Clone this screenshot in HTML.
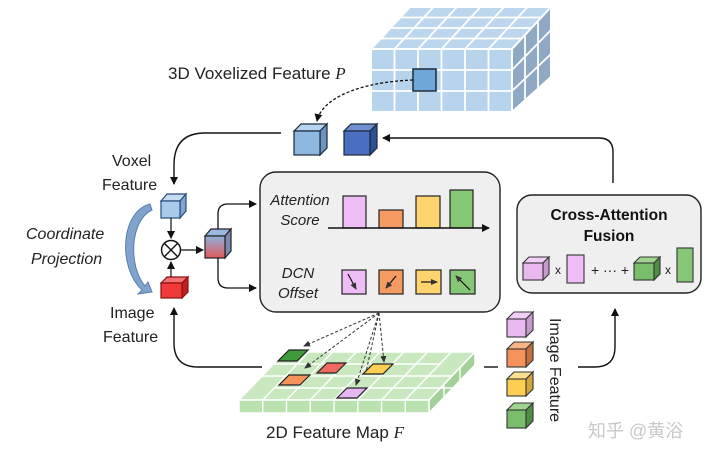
<!DOCTYPE html>
<html><head><meta charset="utf-8"><style>
html,body{margin:0;padding:0;background:#fff;}
svg{display:block;font-family:"Liberation Sans",sans-serif;}
</style></head><body>
<svg width="720" height="459" viewBox="0 0 720 459" xmlns="http://www.w3.org/2000/svg">
<defs>
<marker id="ah" markerWidth="8" markerHeight="8" refX="7" refY="4" orient="auto" markerUnits="userSpaceOnUse"><path d="M0,0 L8,4 L0,8 z" fill="#111"/></marker>
<marker id="ahs" markerWidth="7" markerHeight="6" refX="6" refY="3" orient="auto" markerUnits="userSpaceOnUse"><path d="M0,0 L7,3 L0,6 z" fill="#333"/></marker>
<linearGradient id="gr" x1="0" y1="0" x2="0" y2="1"><stop offset="0" stop-color="#8fb0dd"/><stop offset="1" stop-color="#e05a5a"/></linearGradient>
</defs>

<!-- 3D voxel block -->
<g stroke="#fff" stroke-width="2">
<polygon points="371,49 512,49 551,7 410,7" fill="#bcd6ee"/>
<polygon points="512,49 551,7 551,77 512,112" fill="#8fa9c4"/>
<rect x="371" y="49" width="141" height="63" fill="#b8d3ec"/>
</g>
<g stroke="#fff" stroke-width="1.8" fill="none">
<path d="M394.5,49V112M418,49V112M441.5,49V112M465,49V112M488.5,49V112M371,70H512M371,91H512"/>
<path d="M381,38.5H522M390.5,28H532M400.5,17.5H541.5"/>
<path d="M394.5,49L433.5,7M418,49L457,7M441.5,49L480.5,7M465,49L504,7M488.5,49L527.5,7"/>
<path d="M525,35V100M538,21V89M512,70L551,30M512,91L551,54"/>
</g>
<rect x="413" y="69" width="23" height="22" fill="#6fa7d8" stroke="#1a2a3a" stroke-width="1.5"/>
<text x="168" y="79" font-size="17" fill="#222">3D Voxelized Feature <tspan font-family="Liberation Serif" font-style="italic">P</tspan></text>
<path d="M413,80 C360,82 322,98 317,121" fill="none" stroke="#111" stroke-width="1.3" stroke-dasharray="3,2" marker-end="url(#ah)"/>

<!-- small cubes top -->
<g stroke="#1a2a3a" stroke-width="1.2">
<polygon points="294,131 301,124 327,124 320,131" fill="#b9d4ee"/>
<polygon points="320,131 327,124 327,148 320,155" fill="#6d93bf"/>
<rect x="294" y="131" width="26" height="24" fill="#8fb8e0"/>
<polygon points="344,131 351,124 377,124 370,131" fill="#6f8fd0"/>
<polygon points="370,131 377,124 377,148 370,155" fill="#2f4f98"/>
<rect x="344" y="131" width="26" height="24" fill="#4a6fc0"/>
</g>

<!-- top return arrow -->
<path d="M613,183 V152 Q613,138 599,138 H383" fill="none" stroke="#111" stroke-width="1.4" marker-end="url(#ah)"/>
<!-- voxel feature arrow -->
<path d="M281,133 H205 Q174,133 174,165 V184" fill="none" stroke="#111" stroke-width="1.4" marker-end="url(#ah)"/>
<text x="112" y="166" font-size="16" fill="#222">Voxel</text>
<text x="102" y="190" font-size="16" fill="#222">Feature</text>

<!-- coordinate projection -->
<text x="26" y="239" font-size="16" font-style="italic" fill="#222">Coordinate</text>
<text x="31" y="264" font-size="16" font-style="italic" fill="#222">Projection</text>
<path d="M150,204 C120,212 118,268 142,290 L138,294 L152,292 L148,282 L145,286 C128,266 130,220 152,210 z" fill="#7fa3cc" stroke="#5a7fae" stroke-width="1"/>

<!-- voxel cube -->
<g stroke="#2a4a7a" stroke-width="1.2">
<polygon points="161,201 167,194 186,194 180,201" fill="#c5ddf3"/>
<polygon points="180,201 186,194 186,211 180,218" fill="#7fa6cf"/>
<rect x="161" y="201" width="19" height="17" fill="#a8cbec"/>
</g>
<path d="M171,218 V238" stroke="#111" stroke-width="1.2" marker-end="url(#ah)"/>
<circle cx="171" cy="250" r="9.5" fill="#fff" stroke="#111" stroke-width="1.4"/>
<path d="M164.3,243.3L177.7,256.7M177.7,243.3L164.3,256.7" stroke="#111" stroke-width="1.4"/>
<!-- red cube -->
<g stroke="#8a1010" stroke-width="1.2">
<polygon points="161,283 167,277 188,277 182,283" fill="#f07070"/>
<polygon points="182,283 188,277 188,292 182,298" fill="#c02020"/>
<rect x="161" y="283" width="21" height="15" fill="#f03a3a"/>
</g>
<path d="M171,277 V262" stroke="#111" stroke-width="1.2" marker-end="url(#ah)"/>
<path d="M181,250 H203" stroke="#111" stroke-width="1.2" marker-end="url(#ah)"/>
<!-- gradient cube -->
<g stroke="#222" stroke-width="1.2">
<polygon points="205,236 211,229 231,229 225,236" fill="#9ab8e0"/>
<polygon points="225,236 231,229 231,251 225,258" fill="#7e89b0"/>
<rect x="205" y="236" width="20" height="22" fill="url(#gr)"/>
</g>
<path d="M218,229 V214 Q218,204 228,204 H256" fill="none" stroke="#111" stroke-width="1.3" marker-end="url(#ah)"/>
<path d="M218,258 V278 Q218,288 228,288 H256" fill="none" stroke="#111" stroke-width="1.3" marker-end="url(#ah)"/>

<!-- image feature label + arrow -->
<text x="110" y="318" font-size="16" fill="#222">Image</text>
<text x="103" y="342" font-size="16" fill="#222">Feature</text>
<path d="M262,367 H198 Q174,367 174,343 V308" fill="none" stroke="#111" stroke-width="1.4" marker-end="url(#ah)"/>

<!-- attention box -->
<rect x="260" y="172" width="240" height="140" rx="16" fill="#efefef" stroke="#222" stroke-width="1.4"/>
<text x="300" y="205" font-size="15" font-style="italic" text-anchor="middle" fill="#222">Attention</text>
<text x="300" y="225" font-size="15" font-style="italic" text-anchor="middle" fill="#222">Score</text>
<g stroke="#222" stroke-width="1.2">
<rect x="343" y="196" width="23" height="32" fill="#eebdf5"/>
<rect x="379" y="210" width="24" height="18" fill="#f59a62"/>
<rect x="416" y="196" width="24" height="32" fill="#fed46e"/>
<rect x="450" y="190" width="23" height="38" fill="#86c775"/>
</g>
<path d="M328,228 H489" stroke="#111" stroke-width="1.4" marker-end="url(#ah)"/>
<text x="298" y="278" font-size="15" font-style="italic" text-anchor="middle" fill="#222">DCN</text>
<text x="298" y="298" font-size="15" font-style="italic" text-anchor="middle" fill="#222">Offset</text>
<g stroke="#222" stroke-width="1.2">
<rect x="342" y="270" width="24" height="24" fill="#eebdf5"/>
<rect x="379" y="270" width="24" height="24" fill="#f59a62"/>
<rect x="416" y="270" width="25" height="24" fill="#fed46e"/>
<rect x="450" y="270" width="25" height="24" fill="#86c775"/>
</g>
<g stroke="#111" stroke-width="1.2" fill="none">
<path d="M348,274 L356,289" marker-end="url(#ahs)"/>
<path d="M396,276 L386,288" marker-end="url(#ahs)"/>
<path d="M421,282 L437,282" marker-end="url(#ahs)"/>
<path d="M470,290 L456,276" marker-end="url(#ahs)"/>
</g>

<!-- cross attention box -->
<rect x="517" y="195" width="184" height="98" rx="15" fill="#efefef" stroke="#222" stroke-width="1.4"/>
<text x="609" y="220" font-size="15.5" font-weight="bold" text-anchor="middle" fill="#111">Cross-Attention</text>
<text x="609" y="241" font-size="15.5" font-weight="bold" text-anchor="middle" fill="#111">Fusion</text>
<g stroke="#333" stroke-width="1.1">
<polygon points="523,263 529,257 549,257 543,263" fill="#f2cff7"/>
<polygon points="543,263 549,257 549,274 543,280" fill="#c79acd"/>
<rect x="523" y="263" width="20" height="17" fill="#e9b8f0"/>
<rect x="567" y="255" width="17" height="28" fill="#eebdf5"/>
<polygon points="634,263 640,257 660,257 654,263" fill="#9fd48f"/>
<polygon points="654,263 660,257 660,274 654,280" fill="#4f8e45"/>
<rect x="634" y="263" width="20" height="17" fill="#79bd6a"/>
<rect x="677" y="248" width="16" height="34" fill="#86c775"/>
</g>
<text x="558" y="274" font-size="12" text-anchor="middle" fill="#222">x</text>
<text x="610" y="275" font-size="14" text-anchor="middle" fill="#222">+ ··· +</text>
<text x="668" y="274" font-size="12" text-anchor="middle" fill="#222">x</text>
<path d="M578,367 H595 Q615,367 615,347 V309" fill="none" stroke="#111" stroke-width="1.4" marker-end="url(#ah)"/>
<path d="M484,367 H498" stroke="#111" stroke-width="1.4"/>

<!-- image feature cubes -->
<g stroke="#333" stroke-width="1.1">
<polygon points="507,319 514,312 533,312 526,319" fill="#f2cff7"/>
<polygon points="526,319 533,312 533,330 526,337" fill="#c79acd"/>
<rect x="507" y="319" width="19" height="18" fill="#e9b8f0"/>
<polygon points="507,349 514,342 533,342 526,349" fill="#f7b487"/>
<polygon points="526,349 533,342 533,360 526,367" fill="#c76f3e"/>
<rect x="507" y="349" width="19" height="18" fill="#f5935a"/>
<polygon points="507,379 514,372 533,372 526,379" fill="#fde08d"/>
<polygon points="526,379 533,372 533,389 526,396" fill="#d2a63a"/>
<rect x="507" y="379" width="19" height="17" fill="#fccf52"/>
<polygon points="507,410 514,403 533,403 526,410" fill="#9fd48f"/>
<polygon points="526,410 533,403 533,421 526,428" fill="#4f8e45"/>
<rect x="507" y="410" width="19" height="18" fill="#79bd6a"/>
</g>
<text transform="translate(550,318) rotate(90)" font-size="16" fill="#222">Image Feature</text>

<!-- 2D feature map -->
<g stroke="#fff" stroke-width="1.6">
<polygon points="239,400 429,400 475,352 285,352" fill="#c9e8c0"/>
<polygon points="429,400 475,352 475,365 429,413" fill="#a3cf98"/>
<rect x="239" y="400" width="190" height="13" fill="#b9e2ae"/>
</g>
<g stroke="#fff" stroke-width="1.4" fill="none">
<path d="M250.5,364H440.5M262,376H452M273.5,388H463.5"/>
<path d="M262.75,400L308.75,352M286.5,400L332.5,352M310.25,400L356.25,352M334,400L380,352M357.75,400L403.75,352M381.5,400L427.5,352M405.25,400L451.25,352"/>
<path d="M262.75,400V413M286.5,400V413M310.25,400V413M334,400V413M357.75,400V413M381.5,400V413M405.25,400V413"/>
<path d="M444,384V397M460,368V381"/>
</g>
<g stroke="#222" stroke-width="1.2">
<polygon points="278,361 289,350 308,350 297,361" fill="#3f9a3a"/>
<polygon points="317,373 327,363 346,363 336,373" fill="#ee6a5e"/>
<polygon points="279,385 289,375 310,375 300,385" fill="#f5935a"/>
<polygon points="363,374 373,364 393,364 383,374" fill="#fccf52"/>
<polygon points="337,398 347,388 367,388 357,398" fill="#e4b6f2"/>
</g>
<g stroke="#333" stroke-width="1" stroke-dasharray="3,2" fill="none">
<path d="M379,313 L304,346" marker-end="url(#ahs)"/>
<path d="M379,313 L305,368" marker-end="url(#ahs)"/>
<path d="M379,313 L356,385" marker-end="url(#ahs)"/>
<path d="M379,313 L384,362" marker-end="url(#ahs)"/>
<path d="M379,313 L366,372"/>
</g>
<text x="266" y="438" font-size="17" fill="#222">2D Feature Map <tspan font-family="Liberation Serif" font-style="italic">F</tspan></text>

<text x="588" y="437" font-size="18" fill="#c8c8c8" font-family="'Liberation Sans','Noto Sans CJK SC',sans-serif">知乎 @黄浴</text>
</svg>
</body></html>
